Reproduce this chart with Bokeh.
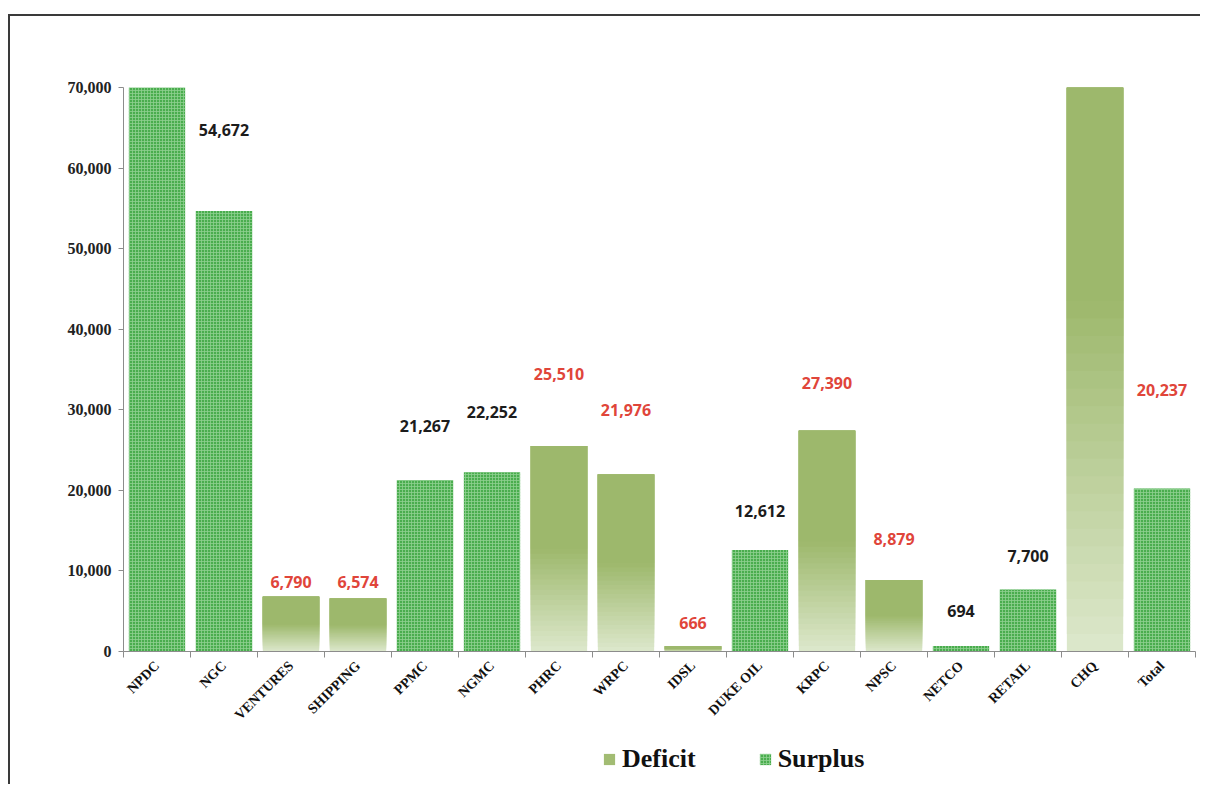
import math
from bokeh.plotting import figure
from bokeh.layouts import column
from bokeh.models import (ColumnDataSource, FixedTicker, Range1d, NumeralTickFormatter,
                          LabelSet, Legend, LegendItem)
from bokeh.core.properties import value
from bokeh.embed import file_html
from bokeh.resources import INLINE

# ---------------- data ----------------
categories = ["NPDC", "NGC", "VENTURES", "SHIPPING", "PPMC", "NGMC", "PHRC", "WRPC",
              "IDSL", "DUKE OIL", "KRPC", "NPSC", "NETCO", "RETAIL", "CHQ", "Total"]
values = [80000, 54672, 6790, 6574, 21267, 22252, 25510, 21976,
          666, 12612, 27390, 8879, 694, 7700, 87000, 20237]
kinds = ["Surplus", "Surplus", "Deficit", "Deficit", "Surplus", "Surplus", "Deficit", "Deficit",
         "Deficit", "Surplus", "Deficit", "Deficit", "Surplus", "Surplus", "Deficit", "Surplus"]
# label shown (bars clipped at the top carry no visible label)
label_shown = [False, True, True, True, True, True, True, True,
               True, True, True, True, True, True, False, True]
# label anchor heights, in data units, as placed in the original
label_y = [0, 64700, 8600, 8600, 28000, 29700, 34500, 30000,
           3500, 17500, 33300, 14000, 5000, 11800, 0, 32400]
label_red = [False, False, True, True, False, False, True, True,
             True, False, True, True, False, False, True, True]
y_ticks = [0, 10000, 20000, 30000, 40000, 50000, 60000, 70000]
legend_labels = ["Deficit", "Surplus"]

# ---------------- styles ----------------
SURPLUS_FILL = "#4aad4e"
SURPLUS_HATCH = "#8fd191"
DEF_TOP = (157, 184, 108)
DEF_BOTTOM = (221, 232, 204)
RED = "#e0453a"
BLACK = "#1c1c1c"
N_SEG = 40

centers = [i + 0.5 for i in range(len(categories))]

# surplus bars
s_idx = [i for i, k in enumerate(kinds) if k == "Surplus"]
surplus_src = ColumnDataSource(dict(x=[centers[i] for i in s_idx],
                                    top=[values[i] for i in s_idx]))

# deficit bars: overlapping slices (each reaching the bar top) to imitate the gradient
dx, db, dt, dc = [], [], [], []
for i, k in enumerate(kinds):
    if k != "Deficit":
        continue
    v = values[i]
    for j in range(N_SEG):
        t0 = j / N_SEG
        tm = (j + 0.5) / N_SEG
        f = min(tm / 0.5, 1.0)
        if f >= 1.0 and (j - 1 + 0.5) / N_SEG / 0.5 >= 1.0:
            continue  # already solid from below
        col = tuple(int(round(DEF_BOTTOM[c] + (DEF_TOP[c] - DEF_BOTTOM[c]) * f)) for c in range(3))
        dx.append(centers[i])
        db.append(v * t0)
        dt.append(v)
        dc.append("#%02x%02x%02x" % col)
deficit_src = ColumnDataSource(dict(x=dx, bottom=db, top=dt, color=dc))

lab_idx = [i for i in range(len(categories)) if label_shown[i]]
label_src = ColumnDataSource(dict(
    x=[centers[i] for i in lab_idx],
    y=[label_y[i] for i in lab_idx],
    text=[f"{values[i]:,}" for i in lab_idx],
    color=[RED if label_red[i] else BLACK for i in lab_idx],
))

# ---------------- main figure ----------------
W = 1190
p = figure(width=W, height=720, output_backend="svg", toolbar_location=None,
           x_range=Range1d(0, len(categories)), y_range=Range1d(0, 70000),
           min_border_left=113, min_border_right=5, min_border_top=71, min_border_bottom=85)
p.outline_line_color = None
p.xgrid.visible = False
p.ygrid.visible = False
p.background_fill_color = "white"
p.border_fill_color = "white"

r_def = p.vbar(x="x", bottom="bottom", top="top", width=0.84, source=deficit_src,
               fill_color="color", line_color=None)
r_sur = p.vbar(x="x", top="top", width=0.84, source=surplus_src,
               fill_color=SURPLUS_FILL, line_color=None,
               hatch_pattern="+", hatch_color=SURPLUS_HATCH, hatch_scale=3, hatch_weight=0.8)

labels = LabelSet(x="x", y="y", text="text", source=label_src, text_color="color",
                  text_align="center", text_baseline="middle",
                  text_font=value("Open Sans"), text_font_style="bold", text_font_size="16px")
p.add_layout(labels)

xa = p.xaxis[0]
xa.ticker = FixedTicker(ticks=centers, minor_ticks=list(range(len(categories) + 1)))
xa.major_label_overrides = {c: n for c, n in zip(centers, categories)}
xa.major_label_orientation = math.pi / 4
xa.major_tick_line_color = None
xa.minor_tick_in = 0
xa.minor_tick_out = 6
xa.minor_tick_line_color = "#8c8c8c"
xa.axis_line_color = "#8c8c8c"
xa.major_label_text_font = "Liberation Serif"
xa.major_label_text_font_style = "bold"
xa.major_label_text_font_size = "14px"
xa.major_label_text_color = "#111111"
xa.major_label_standoff = 6

ya = p.yaxis[0]
ya.ticker = FixedTicker(ticks=y_ticks)
ya.formatter = NumeralTickFormatter(format="0,0")
ya.major_tick_in = 0
ya.major_tick_out = 5
ya.minor_tick_line_color = None
ya.major_tick_line_color = "#8c8c8c"
ya.axis_line_color = "#8c8c8c"
ya.major_label_text_font = "Liberation Serif"
ya.major_label_text_font_style = "bold"
ya.major_label_text_font_size = "16px"
ya.major_label_text_color = "#222222"
ya.major_label_standoff = 7

# ---------------- legend strip ----------------
lg = figure(width=W, height=48, output_backend="svg", toolbar_location=None,
            x_axis_type=None, y_axis_type=None,
            x_range=Range1d(0, 1), y_range=Range1d(0, 1),
            min_border_left=0, min_border_right=0, min_border_top=0, min_border_bottom=0)
lg.grid.visible = False
lg.outline_line_color = None
lg.background_fill_color = None
lg.border_fill_color = None
# hidden copies of the bars, only to give the legend its swatches
k_def = lg.vbar(x="x", bottom="bottom", top="top", width=0.84, source=deficit_src,
                fill_color="#a2bc73", line_color=None, visible=False)
k_sur = lg.vbar(x="x", top="top", width=0.84, source=surplus_src,
                fill_color=SURPLUS_FILL, line_color=None, visible=False,
                hatch_pattern="+", hatch_color=SURPLUS_HATCH, hatch_scale=3, hatch_weight=0.8)
legend = Legend(items=[LegendItem(label=legend_labels[0], renderers=[k_def], index=0),
                       LegendItem(label=legend_labels[1], renderers=[k_sur], index=0)],
                orientation="horizontal", location=(479, 10),
                border_line_color=None, background_fill_alpha=0, inactive_fill_alpha=0,
                glyph_width=14, glyph_height=14, label_standoff=6, spacing=62,
                padding=0, margin=0,
                label_text_font="Liberation Serif", label_text_font_style="bold",
                label_text_font_size="26px", label_text_color="#111111")
lg.add_layout(legend)

layout = column(p, lg, spacing=0)
layout.margin = (14, 0, 0, 8)
layout.styles = {"border-top": "2px solid #3a3a3a", "border-left": "2px solid #3a3a3a",
                 "background-color": "white"}

open("out.html", "w").write(file_html(layout, INLINE))
